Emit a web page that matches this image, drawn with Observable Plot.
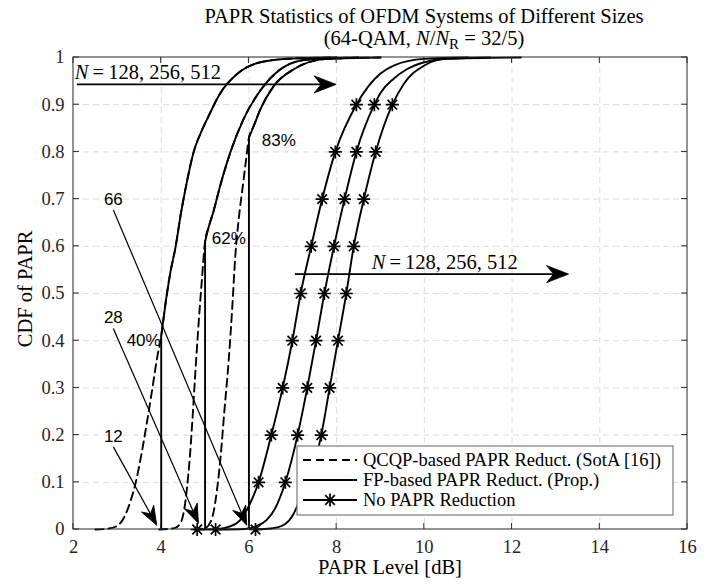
<!DOCTYPE html>
<html>
<head>
<meta charset="utf-8">
<script src="https://cdn.jsdelivr.net/npm/d3@7"></script>
<script src="https://cdn.jsdelivr.net/npm/@observablehq/plot@0.6"></script>
<style>
  html, body { margin: 0; padding: 0; background: #fff; }
  #chart { width: 724px; height: 584px; }
</style>
</head>
<body>
<div id="chart"></div>
<script>
// ---------------- data ----------------
const xTicks = [2, 4, 6, 8, 10, 12, 14, 16];
const yTicks = [0, 0.1, 0.2, 0.3, 0.4, 0.5, 0.6, 0.7, 0.8, 0.9, 1];

// QCQP-based PAPR reduction (dashed), N = 128, 256, 512 : lower branches
const qcqp128X = [2.5, 2.8, 3.0, 3.15, 3.3, 3.42, 3.55, 3.68, 3.8, 3.9, 4.0];
const qcqp128Y = [0, 0.002, 0.008, 0.025, 0.06, 0.1, 0.16, 0.23, 0.3, 0.36, 0.41];
const qcqp256X = [3.95, 4.3, 4.43, 4.52, 4.59, 4.65, 4.71, 4.77, 4.84, 4.92, 5.0];
const qcqp256Y = [0, 0.003, 0.012, 0.04, 0.09, 0.15, 0.23, 0.32, 0.42, 0.52, 0.61];
const qcqp512X = [4.75, 5.0, 5.12, 5.2, 5.28, 5.36, 5.43, 5.54, 5.62, 5.69, 5.77, 5.85, 5.93, 6.0];
const qcqp512Y = [0, 0.003, 0.015, 0.04, 0.09, 0.16, 0.24, 0.36, 0.47, 0.58, 0.66, 0.72, 0.78, 0.83];

// FP-based PAPR reduction (solid): clipping level, jump height, upper branch
const fpLevel = [4, 5, 6];
const fpJump = [0.41, 0.61, 0.83];
const fp128X = [4.0, 4.1, 4.2, 4.33, 4.45, 4.55, 4.74, 4.9, 5.05, 5.35, 5.73, 6.26, 7.0, 8.0];
const fp128Y = [0.41, 0.48, 0.54, 0.6, 0.67, 0.72, 0.8, 0.84, 0.87, 0.925, 0.965, 0.99, 0.998, 1];
const fp256X = [5.0, 5.08, 5.18, 5.35, 5.58, 5.88, 6.26, 6.72, 7.3, 8.5];
const fp256Y = [0.61, 0.64, 0.67, 0.73, 0.8, 0.87, 0.93, 0.975, 0.995, 1];
const fp512X = [6.0, 6.11, 6.26, 6.57, 7.02, 7.78, 9.0];
const fp512Y = [0.83, 0.855, 0.89, 0.94, 0.975, 0.997, 1];

// No PAPR reduction (solid with * markers)
const np128X = [4.82, 5.3, 5.55, 5.8, 6.0, 6.22, 6.51, 6.77, 6.99, 7.18, 7.42, 7.67, 7.97, 8.45, 9.0, 9.3, 10.0, 11.0];
const np128Y = [0, 0.001, 0.006, 0.02, 0.05, 0.1, 0.2, 0.3, 0.4, 0.5, 0.6, 0.7, 0.8, 0.9, 0.966, 0.983, 0.997, 1];
const np256X = [5.24, 5.9, 6.2, 6.4, 6.6, 6.83, 7.11, 7.33, 7.53, 7.72, 7.94, 8.18, 8.45, 8.86, 9.0, 9.3, 9.6, 10.0, 10.6, 11.5];
const np256Y = [0, 0.001, 0.008, 0.02, 0.045, 0.1, 0.2, 0.3, 0.4, 0.5, 0.6, 0.7, 0.8, 0.9, 0.925, 0.955, 0.975, 0.99, 0.998, 1];
const np512X = [6.15, 6.5, 6.8, 7.0, 7.15, 7.35, 7.65, 7.84, 8.03, 8.22, 8.39, 8.62, 8.89, 9.27, 9.53, 10.0, 10.5, 12.2];
const np512Y = [0, 0.002, 0.01, 0.03, 0.06, 0.1, 0.2, 0.3, 0.4, 0.5, 0.6, 0.7, 0.8, 0.9, 0.944, 0.983, 0.997, 1];

// marker positions on the No-PAPR curves
const starLevels = [0, 0.1, 0.2, 0.3, 0.4, 0.5, 0.6, 0.7, 0.8, 0.9];
const star128X = [4.82, 6.22, 6.51, 6.77, 6.99, 7.18, 7.42, 7.67, 7.97, 8.45];
const star256X = [5.24, 6.83, 7.11, 7.33, 7.53, 7.72, 7.94, 8.18, 8.45, 8.86];
const star512X = [6.15, 7.35, 7.65, 7.84, 8.03, 8.22, 8.39, 8.62, 8.89, 9.27];

// annotations (data coordinates)
const pctLabels = ["40%", "62%", "83%"];
const pctX = [3.6, 5.54, 6.68];
const pctY = [0.40, 0.616, 0.824];
const iterLabels = ["12", "28", "66"];
const iterFromX = [2.92, 2.92, 2.92];
const iterFromY = [0.174, 0.425, 0.676];
const iterToX = [3.91, 4.86, 5.96];
const iterToY = [0.008, 0.012, 0.008];
const sizeText = "128, 256, 512";
const sizeArrowFromX = [2.09, 7.06];
const sizeArrowToX = [8.0, 13.3];
const sizeArrowY = [0.942, 0.54];
const sizeTextX = [2.04, 8.81];
const sizeTextY = [0.953, 0.551];
const legendLabels = ["QCQP-based PAPR Reduct. (SotA [16])", "FP-based PAPR Reduct. (Prop.)", "No PAPR Reduction"];

// ---------------- tables built from the arrays ----------------
const zipXY = (xs, ys, series) => xs.map((x, i) => ({x, y: ys[i], series}));
const qcqpData = [
  ...zipXY(qcqp128X.concat(fp128X.slice(1)), qcqp128Y.concat(fp128Y.slice(1)), "q128"),
  ...zipXY(qcqp256X.concat(fp256X.slice(1)), qcqp256Y.concat(fp256Y.slice(1)), "q256"),
  ...zipXY(qcqp512X.concat(fp512X.slice(1)), qcqp512Y.concat(fp512Y.slice(1)), "q512")
];
const fpData = [
  ...zipXY(fp128X, fp128Y, "f128"),
  ...zipXY(fp256X, fp256Y, "f256"),
  ...zipXY(fp512X, fp512Y, "f512")
];
const fpJumps = fpLevel.map((x, i) => ({x, y1: 0, y2: fpJump[i]}));
const npData = [
  ...zipXY(np128X, np128Y, "n128"),
  ...zipXY(np256X, np256Y, "n256"),
  ...zipXY(np512X, np512Y, "n512")
];
const starData = [
  ...zipXY(star128X, starLevels, "n128"),
  ...zipXY(star256X, starLevels, "n256"),
  ...zipXY(star512X, starLevels, "n512")
];
const pctData = pctLabels.map((t, i) => ({t, x: pctX[i], y: pctY[i]}));

// ---------------- layout ----------------
const W = 724, H = 584;
const mL = 73, mR = 37, mT = 57, mB = 55;
const serif = "'Liberation Serif', 'Times New Roman', serif";
const sans = "'Liberation Sans', Arial, sans-serif";
const axisColor = "#262626";
const fsTick = 18.5, fsBig = 20.5;

const asterisk = {
  draw(ctx, size) {
    const r = Math.sqrt(size / Math.PI);
    const d = r * 0.74;
    ctx.moveTo(-r, 0); ctx.lineTo(r, 0);
    ctx.moveTo(0, -r); ctx.lineTo(0, r);
    ctx.moveTo(-d, -d); ctx.lineTo(d, d);
    ctx.moveTo(-d, d); ctx.lineTo(d, -d);
  }
};

const lw = 1.9;
const plot = Plot.plot({
  width: W, height: H,
  marginLeft: mL, marginRight: mR, marginTop: mT, marginBottom: mB,
  style: {fontFamily: serif, fontSize: fsTick + "px", color: axisColor, background: "#fff", overflow: "visible"},
  x: {domain: [2, 16], ticks: xTicks, tickSize: 0, tickPadding: 10, label: null},
  y: {domain: [0, 1], ticks: yTicks, tickSize: 0, tickPadding: 9, label: null,
      tickFormat: d => String(+d.toFixed(1))},
  marks: [
    Plot.ruleX(xTicks.slice(1, -1), {stroke: "#dcdcdc", strokeWidth: 1, strokeDasharray: "6,4"}),
    Plot.ruleY(yTicks.slice(1, -1), {stroke: "#dcdcdc", strokeWidth: 1, strokeDasharray: "6,4"}),
    Plot.line(qcqpData, {x: "x", y: "y", z: "series", curve: "monotone-x", stroke: "#000", strokeWidth: lw, strokeDasharray: "8,5"}),
    Plot.ruleX(fpJumps, {x: "x", y1: "y1", y2: "y2", stroke: "#000", strokeWidth: lw}),
    Plot.line(fpData, {x: "x", y: "y", z: "series", curve: "monotone-x", stroke: "#000", strokeWidth: lw}),
    Plot.line(npData, {x: "x", y: "y", z: "series", curve: "monotone-x", stroke: "#000", strokeWidth: lw}),
    Plot.dot(starData, {x: "x", y: "y", symbol: asterisk, r: 6.5, stroke: "#000", fill: "none", strokeWidth: 1.7}),
    Plot.text(pctData, {x: "x", y: "y", text: "t", fontFamily: sans, fontSize: 17, fill: "#000"})
  ]
});

document.getElementById("chart").appendChild(plot);

// ---------------- overlays: frame, ticks, arrows, legend, titles ----------------
const svg = d3.select(plot);
const xs = d3.scaleLinear([2, 16], [mL, W - mR]);
const ys = d3.scaleLinear([0, 1], [H - mB, mT]);

function arrow(g, x1, y1, x2, y2, sw, L, Wd, notch) {
  const a = Math.atan2(y2 - y1, x2 - x1);
  g.append("line")
    .attr("x1", x1).attr("y1", y1)
    .attr("x2", x2 - Math.cos(a) * notch).attr("y2", y2 - Math.sin(a) * notch)
    .attr("stroke", "#000").attr("stroke-width", sw);
  g.append("path")
    .attr("d", `M0,0L${-L},${-Wd}L${-notch},0L${-L},${Wd}Z`)
    .attr("transform", `translate(${x2},${y2}) rotate(${a * 180 / Math.PI})`)
    .attr("fill", "#000").attr("stroke", "#000").attr("stroke-width", 0.8).attr("stroke-linejoin", "miter");
}

const ann = svg.append("g");
// iteration arrows
iterLabels.forEach((t, i) => {
  arrow(ann, xs(iterFromX[i]), ys(iterFromY[i]), xs(iterToX[i]), ys(iterToY[i]), 1.2, 19, 7, 13);
  ann.append("text").attr("x", xs(iterFromX[i])).attr("y", ys(iterFromY[i]) - 5)
    .attr("text-anchor", "middle").attr("font-family", sans).attr("font-size", 17).attr("fill", "#000").text(t);
});
// N = 128, 256, 512 arrows
sizeArrowY.forEach((yy, i) => {
  arrow(ann, xs(sizeArrowFromX[i]), ys(yy), xs(sizeArrowToX[i]), ys(yy), 1.6, 22, 8.5, 15);
  const tx = ann.append("text").attr("x", xs(sizeTextX[i])).attr("y", ys(sizeTextY[i]))
    .attr("text-anchor", "start")
    .attr("font-family", serif).attr("font-size", fsBig).attr("fill", "#000");
  tx.append("tspan").attr("font-style", "italic").text("N");
  tx.append("tspan").text("\u2009=\u2009" + sizeText);
});

// frame and inward ticks (box on)
const fr = svg.append("g").attr("stroke", axisColor).attr("stroke-width", 1).attr("fill", "none");
const tl = 6;
xTicks.forEach(t => {
  fr.append("line").attr("x1", xs(t)).attr("x2", xs(t)).attr("y1", H - mB).attr("y2", H - mB - tl);
  fr.append("line").attr("x1", xs(t)).attr("x2", xs(t)).attr("y1", mT).attr("y2", mT + tl);
});
yTicks.forEach(t => {
  fr.append("line").attr("y1", ys(t)).attr("y2", ys(t)).attr("x1", mL).attr("x2", mL + tl);
  fr.append("line").attr("y1", ys(t)).attr("y2", ys(t)).attr("x1", W - mR).attr("x2", W - mR - tl);
});
fr.append("rect").attr("x", mL).attr("y", mT).attr("width", W - mL - mR).attr("height", H - mT - mB);

// legend
const lg = svg.append("g");
const lx0 = W - mR - 14, ly1 = H - mB - 14;
const lbx = 297, lby = 446;
lg.append("rect").attr("x", lbx).attr("y", lby).attr("width", lx0 - lbx).attr("height", ly1 - lby)
  .attr("fill", "#fff").attr("stroke", "#7a7a7a").attr("stroke-width", 1.2);
const rowY = [460, 480, 500];
const sx1 = 303, sx2 = 357;
lg.append("line").attr("x1", sx1).attr("x2", sx2).attr("y1", rowY[0]).attr("y2", rowY[0])
  .attr("stroke", "#000").attr("stroke-width", lw).attr("stroke-dasharray", "8,5");
lg.append("line").attr("x1", sx1).attr("x2", sx2).attr("y1", rowY[1]).attr("y2", rowY[1])
  .attr("stroke", "#000").attr("stroke-width", lw);
lg.append("line").attr("x1", sx1).attr("x2", sx2).attr("y1", rowY[2]).attr("y2", rowY[2])
  .attr("stroke", "#000").attr("stroke-width", lw);
{
  const c = (sx1 + sx2) / 2, r = 6.5, d = r * 0.74;
  lg.append("path").attr("d", `M${c - r},${rowY[2]}h${2 * r}M${c},${rowY[2] - r}v${2 * r}M${c - d},${rowY[2] - d}l${2 * d},${2 * d}M${c - d},${rowY[2] + d}l${2 * d},${-2 * d}`)
    .attr("stroke", "#000").attr("stroke-width", 1.7).attr("fill", "none");
}
legendLabels.forEach((t, i) => {
  lg.append("text").attr("x", 363).attr("y", rowY[i]).attr("dy", "0.35em").attr("text-anchor", "start")
    .attr("font-family", serif).attr("font-size", fsTick).attr("fill", "#000").text(t);
});

// titles and axis labels
const titleCx = 424;
const cx = (mL + W - mR) / 2;
svg.append("text").attr("x", titleCx).attr("y", 23).attr("text-anchor", "middle")
  .attr("font-family", serif).attr("font-size", fsBig).attr("fill", "#000")
  .text("PAPR Statistics of OFDM Systems of Different Sizes");
{
  const t2 = svg.append("text").attr("x", titleCx).attr("y", 45).attr("text-anchor", "middle")
    .attr("font-family", serif).attr("font-size", fsBig).attr("fill", "#000");
  t2.append("tspan").text("(64-QAM, ");
  t2.append("tspan").attr("font-style", "italic").text("N");
  t2.append("tspan").text("/");
  t2.append("tspan").attr("font-style", "italic").text("N");
  t2.append("tspan").attr("font-size", 15).attr("dy", 4).text("R");
  t2.append("tspan").attr("dy", -4).text(" = 32/5)");
}
svg.append("text").attr("x", cx + 10).attr("y", 574).attr("text-anchor", "middle")
  .attr("font-family", serif).attr("font-size", fsBig).attr("fill", "#000").text("PAPR Level [dB]");
svg.append("text").attr("transform", `translate(32,${(mT + H - mB) / 2 - 4}) rotate(-90)`)
  .attr("text-anchor", "middle")
  .attr("font-family", serif).attr("font-size", fsBig).attr("fill", "#000").text("CDF of PAPR");
</script>
</body>
</html>
